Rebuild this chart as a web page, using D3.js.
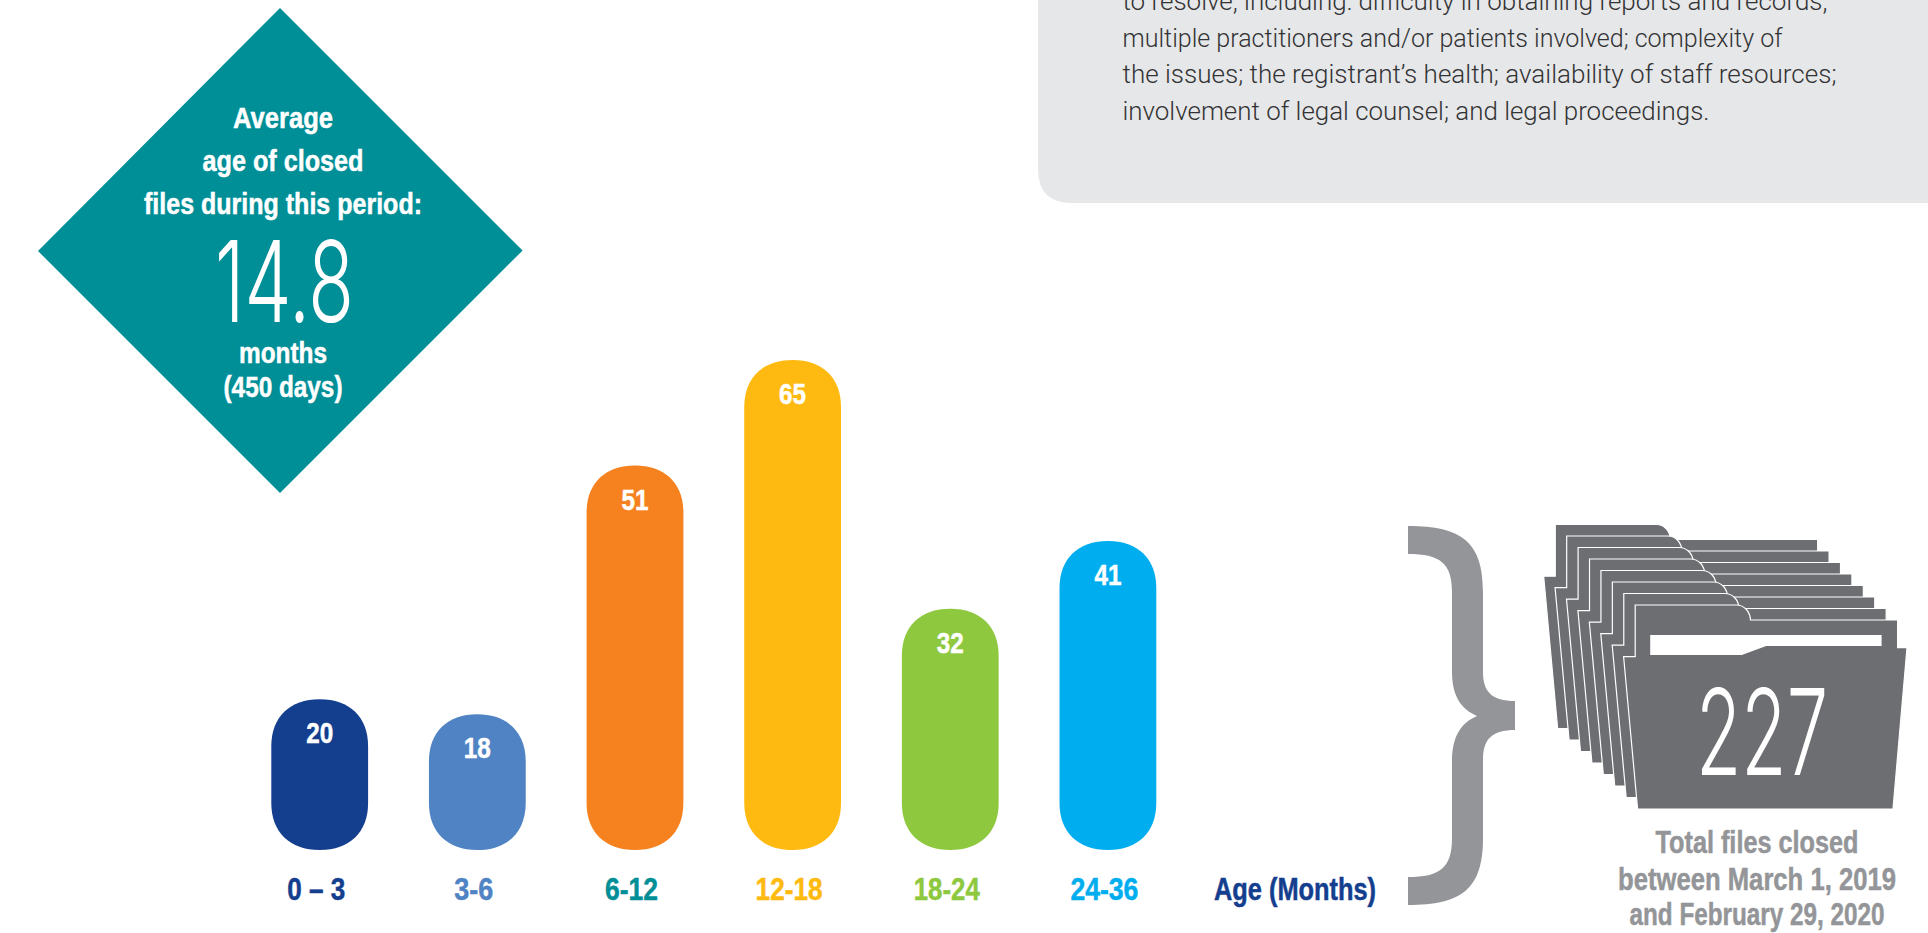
<!DOCTYPE html>
<html>
<head>
<meta charset="utf-8">
<title>Age of closed files</title>
<script src="https://cdn.jsdelivr.net/npm/d3@7/dist/d3.min.js"></script>
<style>
  html, body { margin: 0; background: #fff; overflow: hidden; }
  svg { display: block; }
</style>
</head>
<body>
<svg id="chart" width="1928" height="933"></svg>
<script>
// Files closed per age bracket
const categories = ["0 – 3", "3-6", "6-12", "12-18", "18-24", "24-36"];
const fileCounts = [20, 18, 51, 65, 32, 41];
const barColors = ["#143e8e", "#5083c4", "#f6811f", "#feba11", "#8dc83f", "#00aeef"];
const labelColors = ["#143e8e", "#5083c4", "#008e97", "#feba11", "#8dc83f", "#00aeef"];
const labelWidths = [58, 39, 53, 67, 66, 68];

const averageMonths = "14.8";
const totalFiles = "227";
const noteLines = [
  "to resolve, including: difficulty in obtaining reports and records,",
  "multiple practitioners and/or patients involved; complexity of",
  "the issues; the registrant’s health; availability of staff resources;",
  "involvement of legal counsel; and legal proceedings."
];

const svg = d3.select("#chart");
const GREY = "#939598", FOLDER = "#6d6e71", TEAL = "#008e97";
const NARROW = '"Liberation Sans Narrow", "Liberation Sans", sans-serif';

const x = d3.scaleBand().domain(categories).range([271.3, 1156.3]).paddingInner(0.386);
const y = d3.scaleLinear().domain([0, 65]).range([850, 360]);

// Draws a text line squeezed to a known width; bold lines get a hairline of their own colour
function line(g, str, cx, baseline, size, width, opts = {}) {
  const fill = opts.fill || "#fff";
  const t = g.append("text")
    .attr("x", cx).attr("y", baseline)
    .attr("text-anchor", opts.anchor || "middle")
    .attr("font-size", size)
    .attr("font-weight", opts.weight || 700)
    .style("font-family", opts.family || NARROW)
    .attr("fill", fill)
    .attr("textLength", width)
    .attr("lengthAdjust", "spacingAndGlyphs")
    .text(str);
  if (!opts.weight) t.attr("stroke", fill).attr("stroke-width", 0.5);
  return t;
}

// Note panel, running off the top and right of the page
const panel = d3.path();
panel.moveTo(1038, 0);
panel.lineTo(1038, 169);
panel.quadraticCurveTo(1038, 203, 1072, 203);
panel.lineTo(1928, 203);
panel.lineTo(1928, 0);
panel.closePath();
svg.append("path").attr("d", panel).attr("fill", "#e6e7e8");

const noteWidths = [705, 660, 714, 587];
const noteG = svg.append("g");
noteLines.forEach((t, i) => {
  line(noteG, t, 1122.5, 10 + i * 36.6, 25, noteWidths[i],
    { anchor: "start", weight: 300, fill: "#333335", family: "Roboto, sans-serif" });
});

// Diamond callout
svg.append("path").attr("d", "M280,8 L522.6,250.5 L280,493 L38,251 Z").attr("fill", TEAL);
const callout = svg.append("g");
line(callout, "Average", 283, 128, 30, 100);
line(callout, "age of closed", 283, 171, 30, 161);
line(callout, "files during this period:", 283, 214, 30, 278);
line(callout, averageMonths, 284.5, 322, 113, 139, { weight: 300, family: "Inter, sans-serif" });
line(callout, "months", 283, 363, 30, 88);
line(callout, "(450 days)", 283, 397, 30, 119);

// Rounded bars
function barPath(left, top, w, bottom) {
  const rx = w / 2, ry = 47, kx = rx * 0.62, ky = ry * 0.62, p = d3.path();
  const right = left + w;
  p.moveTo(left, top + ry);
  p.bezierCurveTo(left, top + ry - ky, left + rx - kx, top, left + rx, top);
  p.bezierCurveTo(right - rx + kx, top, right, top + ry - ky, right, top + ry);
  p.lineTo(right, bottom - ry);
  p.bezierCurveTo(right, bottom - ry + ky, right - rx + kx, bottom, left + rx, bottom);
  p.bezierCurveTo(left + rx - kx, bottom, left, bottom - ry + ky, left, bottom - ry);
  p.closePath();
  return p.toString();
}

svg.append("g").selectAll("path")
  .data(categories)
  .join("path")
  .attr("d", (c, i) => barPath(x(c), y(fileCounts[i]), x.bandwidth(), y(0)))
  .attr("fill", (c, i) => barColors[i]);

const values = svg.append("g");
categories.forEach((c, i) => {
  line(values, String(fileCounts[i]), x(c) + x.bandwidth() / 2, y(fileCounts[i]) + 44, 30, 27);
});

const axisLabels = svg.append("g");
categories.forEach((c, i) => {
  line(axisLabels, c, x(c) + x.bandwidth() / 2 - 3.5, 900, 32, labelWidths[i], { fill: labelColors[i] });
});
line(axisLabels, "Age (Months)", 1295, 900, 32, 162, { fill: "#143e8e" });

// Curly brace gathering the bars
svg.append("path").attr("fill", GREY).attr("d",
  "M1408,526 C1462,526 1483,542 1483,592 L1483,672 C1483,692 1492,701 1515,701 " +
  "L1515,730 C1492,730 1483,739 1483,760 L1483,838 C1483,889 1462,905 1408,905 " +
  "L1408,877 C1440,877 1452,868 1452,838 L1452,762 C1452,736 1461,723 1477,716 " +
  "C1461,709 1452,696 1452,672 L1452,592 C1452,563 1440,554 1408,554 Z");

// Stack of folders, back to front
const folderOutline = "M1623.6,656.7 H1635.2 V605 H1736 C1745,605 1750,612 1750.5,620 " +
  "H1897.6 V647.7 H1907 L1893,809 H1637.6 Z";
svg.append("g").selectAll("path")
  .data(d3.range(7, -1, -1))
  .join("path")
  .attr("d", folderOutline)
  .attr("transform", d => `translate(${-11.42 * d},${-11.5 * d})`)
  .attr("fill", FOLDER)
  .attr("stroke", "#fff")
  .attr("stroke-width", 1.2);
svg.append("path").attr("fill", "#fff")
  .attr("d", "M1650.2,635 H1881.6 V646 H1766.2 L1741.8,655 H1650.2 Z");

line(svg, totalFiles, 1762, 775, 120, 132, { weight: 300, family: "Inter, sans-serif" });

line(svg, "Total files closed", 1757, 853, 31, 203, { fill: GREY });
line(svg, "between March 1, 2019", 1757, 890, 31, 278, { fill: GREY });
line(svg, "and February 29, 2020", 1757, 925, 31, 255, { fill: GREY });
</script>
</body>
</html>
